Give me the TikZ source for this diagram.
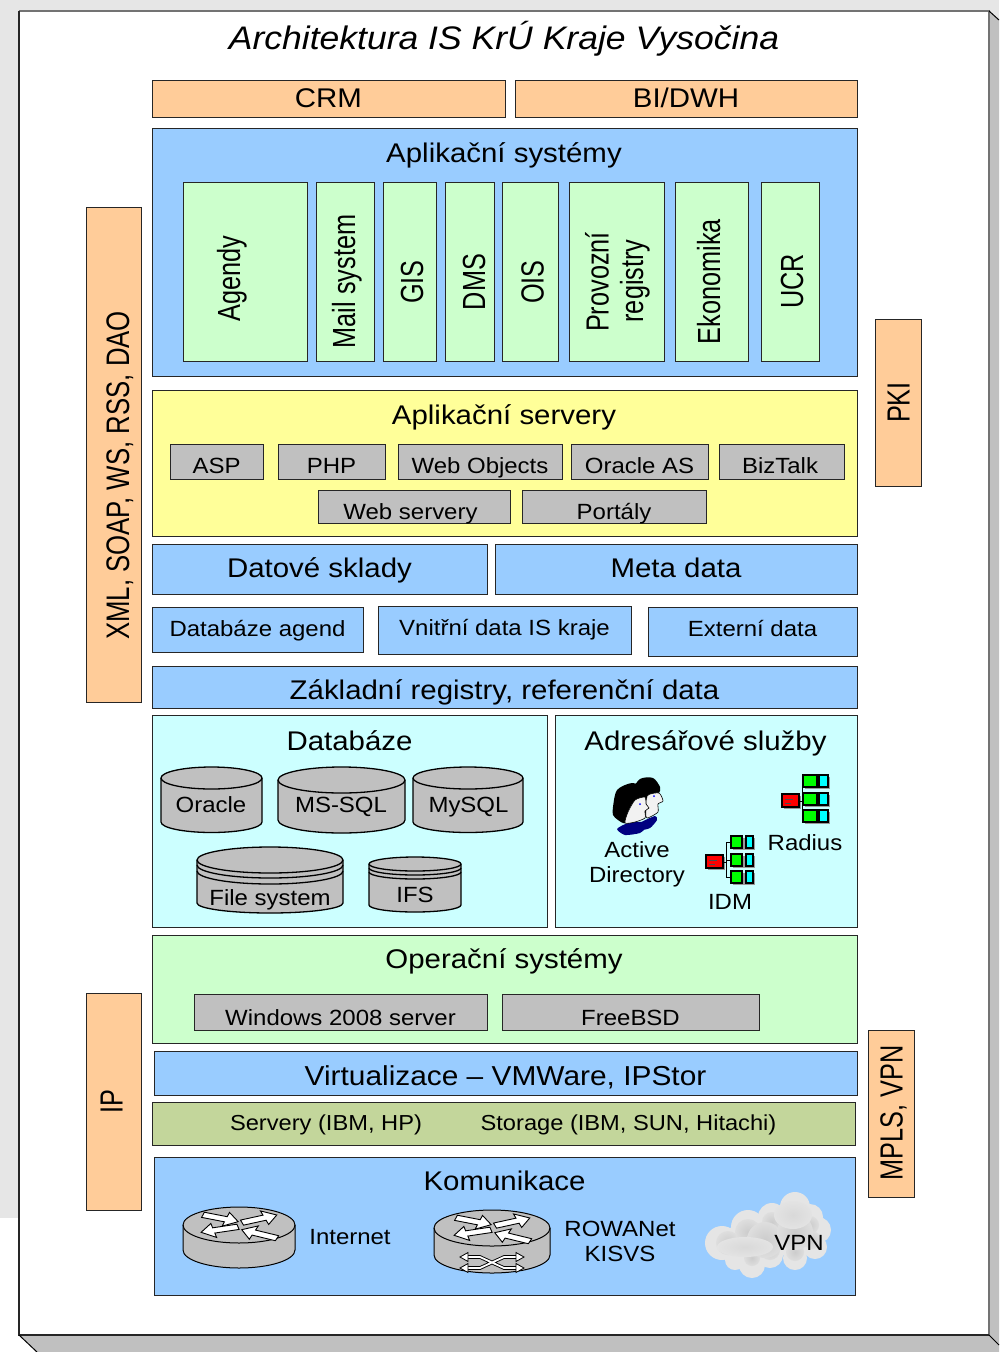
\documentclass[tikz,border=0pt]{standalone}
\usepackage{fontspec}
\setmainfont[FakeStretch=1.09]{Liberation Sans}
\newfontfamily\rotfont[FakeStretch=0.79]{Liberation Sans}
\usetikzlibrary{positioning}
\definecolor{boxorange}{HTML}{FFCC99}
\definecolor{boxblue}{HTML}{99CCFF}
\definecolor{boxgreen}{HTML}{CCFFCC}
\definecolor{boxyellow}{HTML}{FFFF99}
\definecolor{boxgrey}{HTML}{C0C0C0}
\definecolor{boxcyan}{HTML}{CCFFFF}
\definecolor{boxolive}{HTML}{C3D69B}
\definecolor{pageback}{HTML}{E6E6E6}
\definecolor{orgcyan}{HTML}{00FFFF}
\definecolor{orggreen}{HTML}{00FF00}
\definecolor{orgred}{HTML}{FF0000}
\tikzset{
  block/.style={draw=black!85,line width=1pt,inner sep=0pt,outer sep=0pt},
  base/.style={text height=#1,text depth=0pt},
  big/.style={font=\fontsize{27}{30}\selectfont},
  small/.style={font=\fontsize{22}{27}\selectfont},
  rottext/.style={rotate=90,anchor=base,inner sep=0pt,font=\rotfont\fontsize{32}{36}\selectfont},
  title/.style={big,anchor=base,inner sep=0pt},
  label/.style={small,anchor=base,inner sep=0pt,align=center},
  hwlabel/.style={anchor=base,inner sep=0pt,font=\fontsize{21.7}{27}\selectfont},
  orgbox/.style={draw=black,line width=1.2pt},
  disk/.style={draw=black,line width=1.3pt,fill=boxgrey},
  router/.style={draw=black,line width=1pt,fill=boxgrey},
  pics/orgicon/.style n args={4}{code={
    \fill[black!40] (2,21) rectangle (19,34);
    \draw[black,line width=.8pt] (17,26)--(20,26) (20,7)--(20,41);
    \foreach \ya/\yb in {0/12,18/30,35/47}{
      \fill[black!40] (#1+2,\ya+2) rectangle (#4+2,\yb+2);
      \draw[black,line width=.8pt] (20,\ya/2+\yb/2)--(#1,\ya/2+\yb/2);
      \draw[orgbox,fill=orggreen] (#1,\ya) rectangle (#2,\yb);
      \draw[orgbox,fill=orgcyan] (#3,\ya) rectangle (#4,\yb);
    }
    \draw[orgbox,fill=orgred] (0,19) rectangle (17,32);
    \draw[black!70,line width=.6pt] (3,24)--(11,24) (3,28)--(9,28);
  }},
  pics/routertop/.style={code={
    \begin{scope}[yscale=.6]
    \foreach \ax/\ay/\ang/\len in {-36/-17/-18/37,3/-4/20/37,-1/3/194/38,38/22/158/38}{
      \draw[fill=white,line width=.9pt,shift={(\ax,\ay)},rotate=\ang]
        (0,-4.5)--(\len-13,-4.5)--(\len-13,-12)--(\len,0)--(\len-13,12)--(\len-13,4.5)--(0,4.5)--cycle;
    }
    \end{scope}
  }},
}
% cylinder: x0, x1, y of top ellipse, y where the side ends, radius top, radius bottom
\newcommand{\dbcyl}[6]{%
  \pgfmathsetmacro{\rx}{(#2-#1)/2}
  \draw[disk] (#1,#3) -- (#1,#4) arc[start angle=180,end angle=360,x radius=\rx pt,y radius=#6 pt]
    -- (#2,#3) arc[start angle=0,end angle=180,x radius=\rx pt,y radius=#5 pt] -- cycle;
  \draw[disk,fill=none] (#1,#3) arc[start angle=180,end angle=360,x radius=\rx pt,y radius=#5 pt];
}
\begin{document}
\begin{tikzpicture}[x=1pt,y=-1pt]
\useasboundingbox (0,0) rectangle (999,1352);
% page
\fill[pageback] (0,0) rectangle (999,1218);
\fill[pageback] (19,0) rectangle (999,1352);
\fill[boxgrey] (19,1335) -- (989,1335) -- (989,11) -- (999,20) -- (999,1352) -- (37,1352) -- cycle;
\fill[white] (0,1218) rectangle (19,1352);
\fill[white] (19,1335) -- (37,1352) -- (19,1352) -- cycle;
\fill[white] (19,11) rectangle (989,1335);
\draw[black!55,line width=1.6pt] (19,11) -- (989,11) -- (989,1335);
\draw[black!85,line width=1.2pt] (19,11) -- (19,1335) -- (989,1335);
\draw[black,line width=1pt] (19,1335) -- (37,1352) (989,1335) -- (999,1345) (989,11) -- (999,20);
\node[font=\itshape\fontsize{32.6}{36}\selectfont,anchor=base,inner sep=0pt] (heading) at (504,49) {Architektura IS KrÚ Kraje Vysočina};

% top row
\node[block,big,base=17pt,fill=boxorange,minimum width=353pt,minimum height=37pt] (crm) at (328.5,98.5) {CRM};
\node[block,big,base=17pt,fill=boxorange,minimum width=342pt,minimum height=37pt] (bidwh) at (686,98.5) {BI/DWH};

% application systems
\node[block,fill=boxblue,minimum width=705pt,minimum height=248pt] (aplsys) at (504.5,252) {};
\node[title] (aplsystxt) at (504,162) {Aplikační systémy};
\node[block,fill=boxgreen,minimum width=124pt,minimum height=179pt] (agendy) at (245,271.5) {};
\node[block,fill=boxgreen,minimum width=58pt,minimum height=179pt] (mail) at (345,271.5) {};
\node[block,fill=boxgreen,minimum width=53pt,minimum height=179pt] (gis) at (409.5,271.5) {};
\node[block,fill=boxgreen,minimum width=49pt,minimum height=179pt] (dms) at (469.5,271.5) {};
\node[block,fill=boxgreen,minimum width=56pt,minimum height=179pt] (ois) at (530,271.5) {};
\node[block,fill=boxgreen,minimum width=95pt,minimum height=179pt] (provoz) at (616.5,271.5) {};
\node[block,fill=boxgreen,minimum width=73pt,minimum height=179pt] (ekon) at (711.5,271.5) {};
\node[block,fill=boxgreen,minimum width=58pt,minimum height=179pt] (ucr) at (790,271.5) {};
\node[rottext] (agendytxt) at (240,278.5) {Agendy};
\node[rottext] (mailtxt) at (355,281.5) {Mail system};
\node[rottext] (gistxt) at (423,282) {GIS};
\node[rottext] (dmstxt) at (485,282) {DMS};
\node[rottext] (oistxt) at (543.5,282) {OIS};
\node[rottext] (provoztxt) at (608.5,282) {Provozní};
\node[rottext] (registrytxt) at (643,281) {registry};
\node[rottext] (ekontxt) at (720,281.5) {Ekonomika};
\node[rottext] (ucrtxt) at (803,281.5) {UCR};

% application servers
\node[block,fill=boxyellow,minimum width=705pt,minimum height=146pt] (aplsrv) at (504.5,463) {};
\node[title] (aplsrvtxt) at (504,424) {Aplikační servery};
\node[block,small,base=23pt,fill=boxgrey,minimum width=93pt,minimum height=35pt] (asp) at (216.5,461.5) {ASP};
\node[block,small,base=23pt,fill=boxgrey,minimum width=107pt,minimum height=35pt] (php) at (331.5,461.5) {PHP};
\node[block,small,base=23pt,fill=boxgrey,minimum width=164pt,minimum height=35pt] (webobj) at (480,461.5) {Web Objects};
\node[block,small,base=23pt,fill=boxgrey,minimum width=137pt,minimum height=35pt] (oraas) at (639.5,461.5) {Oracle AS};
\node[block,small,base=23pt,fill=boxgrey,minimum width=125pt,minimum height=35pt] (biztalk) at (781.5,461.5) {};
\node[label] (biztalktxt) at (780,473) {BizTalk};
\node[block,fill=boxgrey,minimum width=192pt,minimum height=33pt] (websrv) at (414,506.5) {};
\node[label] (websrvtxt) at (410.5,519) {Web servery};
\node[block,small,base=26pt,fill=boxgrey,minimum width=184pt,minimum height=33pt] (portaly) at (614,506.5) {Portály};

% data
\node[block,big,base=17pt,fill=boxblue,minimum width=335pt,minimum height=50pt] (sklady) at (319.5,569) {Datové sklady};
\node[block,big,base=17pt,fill=boxblue,minimum width=362pt,minimum height=50pt] (meta) at (676,569) {Meta data};
\node[block,small,base=14pt,fill=boxblue,minimum width=211pt,minimum height=45pt] (dbagend) at (257.5,629.5) {Databáze agend};
\node[block,small,base=10pt,fill=boxblue,minimum width=253pt,minimum height=48pt] (vnitrni) at (504.5,630) {Vnitřní data IS kraje};
\node[block,small,base=10pt,fill=boxblue,minimum width=209pt,minimum height=49pt] (extern) at (752.5,631.5) {Externí data};
\node[block,big,base=24pt,fill=boxblue,minimum width=705pt,minimum height=42pt] (zakl) at (504.5,687) {Základní registry, referenční data};

% databases
\node[block,fill=boxcyan,minimum width=395pt,minimum height=212pt] (dbases) at (349.5,821) {};
\node[title] (dbasestxt) at (349.5,750) {Databáze};
\dbcyl{161}{262}{778}{822}{11}{10.5}
\dbcyl{278}{405}{780}{820}{13}{13}
\dbcyl{413}{523}{778}{822}{11}{10.5}
\dbcyl{197}{343}{860}{903}{13}{10}
\draw[disk,fill=none] (197,865) arc[start angle=180,end angle=360,x radius=73pt,y radius=13pt];
\draw[disk,fill=none] (197,871) arc[start angle=180,end angle=360,x radius=73pt,y radius=13pt];
\dbcyl{369}{461}{864}{905}{7}{7}
\draw[disk,fill=none] (369,868) arc[start angle=180,end angle=360,x radius=46pt,y radius=7pt];
\draw[disk,fill=none] (369,872) arc[start angle=180,end angle=360,x radius=46pt,y radius=7pt];
\node[label] (oracle) at (211,812) {Oracle};
\node[label] (mssql) at (341,812) {MS-SQL};
\node[label] (mysql) at (468.5,812) {MySQL};
\node[label] (filesys) at (270,905) {File system};
\node[label] (ifs) at (415,902) {IFS};

% directory services
\node[block,fill=boxcyan,minimum width=302pt,minimum height=212pt] (adr) at (706,821) {};
\node[title] (adrtxt) at (705.5,750) {Adresářové služby};
\fill[black] plot[smooth cycle] coordinates {(632,792) (640,779) (653,778) (660,787) (659,793) (652,795) (647,802) (647,817) (634,810)};
\draw[black,line width=.6pt,fill=black!5] plot[smooth cycle,tension=.4] coordinates {(647,796) (659,793) (663,801) (658,804) (658,812) (650,817) (646,817)};
\fill[blue!50!black] plot[smooth cycle,tension=.4] coordinates {(640,823) (655,816) (657,820) (650,828) (640,830)};
\fill[blue!50!black] plot[smooth cycle,tension=.4] coordinates {(617,829) (628,823) (642,822) (645,828) (640,833) (625,835)};
\fill[black] plot[smooth cycle] coordinates {(613,807) (617,790) (632,783) (643,788) (647,798) (635,800) (628,812) (625,823) (618,820) (613,815)};
\draw[black,line width=.6pt,fill=black!5] plot[smooth cycle,tension=.4] coordinates {(628,812) (635,800) (645,797) (646,804) (649,808) (645,811) (645,818) (635,822) (625,823)};
\fill[blue] (640,804) circle (1pt) (654,796) circle (1pt);
\pic at (782,775) {orgicon={21}{35}{37}{46}};
\pic at (706,836) {orgicon={25}{36}{40}{47}};
\node[label] (ad) at (637,857) {Active};
\node[label] (ad2) at (637,882) {Directory};
\node[label] (radius) at (805,850) {Radius};
\node[label] (idm) at (730,909) {IDM};

% operating systems
\node[block,fill=boxgreen,minimum width=705pt,minimum height=108pt] (opsys) at (504.5,989) {};
\node[title] (opsystxt) at (504,968) {Operační systémy};
\node[block,small,base=26pt,fill=boxgrey,minimum width=293pt,minimum height=36pt] (win) at (340.5,1012) {Windows 2008 server};
\node[block,small,base=26pt,fill=boxgrey,minimum width=257pt,minimum height=36pt] (bsd) at (630.5,1012) {FreeBSD};

% virtualization and hardware
\node[block,big,base=24pt,font=\fontsize{27.4}{30}\selectfont,fill=boxblue,minimum width=703pt,minimum height=44pt] (virt) at (505.5,1073) {Virtualizace -- VMWare, IPStor};
\node[block,fill=boxolive,minimum width=703pt,minimum height=43pt] (hw) at (503.5,1123.5) {};
\node[hwlabel] (servery) at (326,1130) {Servery (IBM, HP)};
\node[hwlabel] (storage) at (628.5,1130) {Storage (IBM, SUN, Hitachi)};

% communication
\node[block,fill=boxblue,minimum width=701pt,minimum height=138pt] (komun) at (504.5,1226) {};
\node[title] (komuntxt) at (504.5,1190) {Komunikace};
\draw[router] (183,1225) -- (183,1250) arc[start angle=180,end angle=360,x radius=56pt,y radius=18pt] -- (295,1225) arc[start angle=0,end angle=180,x radius=56pt,y radius=18pt] -- cycle;
\draw[router,fill=none] (183,1225) arc[start angle=180,end angle=360,x radius=56pt,y radius=18pt];
\pic at (239,1225) {routertop};
\draw[router] (434,1228) -- (434,1255) arc[start angle=180,end angle=360,x radius=58pt,y radius=18pt] -- (550,1228) arc[start angle=0,end angle=180,x radius=58pt,y radius=18pt] -- cycle;
\draw[router,fill=none] (434,1228) arc[start angle=180,end angle=360,x radius=58pt,y radius=18pt];
\pic at (492,1228) {routertop};
\draw[line width=3.6pt] (468,1257) -- (480,1257) -- (504,1268) -- (516,1268) (468,1268) -- (480,1268) -- (504,1257) -- (516,1257);
\draw[white,line width=1.8pt] (468,1257) -- (480,1257) -- (504,1268) -- (516,1268) (468,1268) -- (480,1268) -- (504,1257) -- (516,1257);
\foreach \ty in {1257,1268}{
  \draw[fill=white,line width=.8pt] (468,\ty-4.5) -- (468,\ty+4.5) -- (460,\ty) -- cycle;
  \draw[fill=white,line width=.8pt] (516,\ty-4.5) -- (516,\ty+4.5) -- (524,\ty) -- cycle;
}
% cloud
\foreach \cx/\cy/\r in {722/1243/17,748/1227/17,772/1217/14,795/1207/15,810/1217/13,818/1230/13,815/1247/12,795/1258/12,770/1255/13,752/1265/13,735/1260/10,738/1243/17,782/1237/17,765/1240/24,795/1230/24,745/1250/20}{
  \fill[black!10] (\cx,\cy) circle (\r pt);
}
\foreach \cx/\cy/\r in {728/1243/12,748/1232/13,772/1222/10,795/1215/10,810/1225/9,812/1240/9,795/1252/9,770/1250/10,752/1258/8,765/1240/18,795/1232/18}{
  \shade[inner color=black!20,outer color=black!13] (\cx,\cy) circle (\r pt);
}
\shade[inner color=black!15,outer color=black!11] (793,1215) ellipse (19pt and 14pt);
\shade[inner color=black!15,outer color=black!11] (745,1247) ellipse (28pt and 10pt);
\node[label] (internet) at (350,1244) {Internet};
\node[label] (rowanet) at (620,1236) {ROWANet};
\node[label] (kisvs) at (620,1261) {KISVS};
\node[label] (vpn) at (799,1250) {VPN};

% side bars
\node[block,fill=boxorange,minimum width=55pt,minimum height=495pt] (xml) at (113.5,454.5) {};
\node[rottext,font=\rotfont\fontsize{32.6}{36}\selectfont] (xmltxt) at (129,475.5) {XML, SOAP, WS, RSS, DAO};
\node[block,fill=boxorange,minimum width=55pt,minimum height=217pt] (ip) at (113.5,1101.5) {};
\node[rottext] (iptxt) at (122.5,1101.5) {IP};
\node[block,fill=boxorange,minimum width=46pt,minimum height=167pt] (pki) at (898,402.5) {};
\node[rottext] (pkitxt) at (909.5,402.5) {PKI};
\node[block,fill=boxorange,minimum width=46pt,minimum height=167pt] (mpls) at (891,1113.5) {};
\node[rottext] (mplstxt) at (902.5,1113) {MPLS, VPN};
\end{tikzpicture}
\end{document}
